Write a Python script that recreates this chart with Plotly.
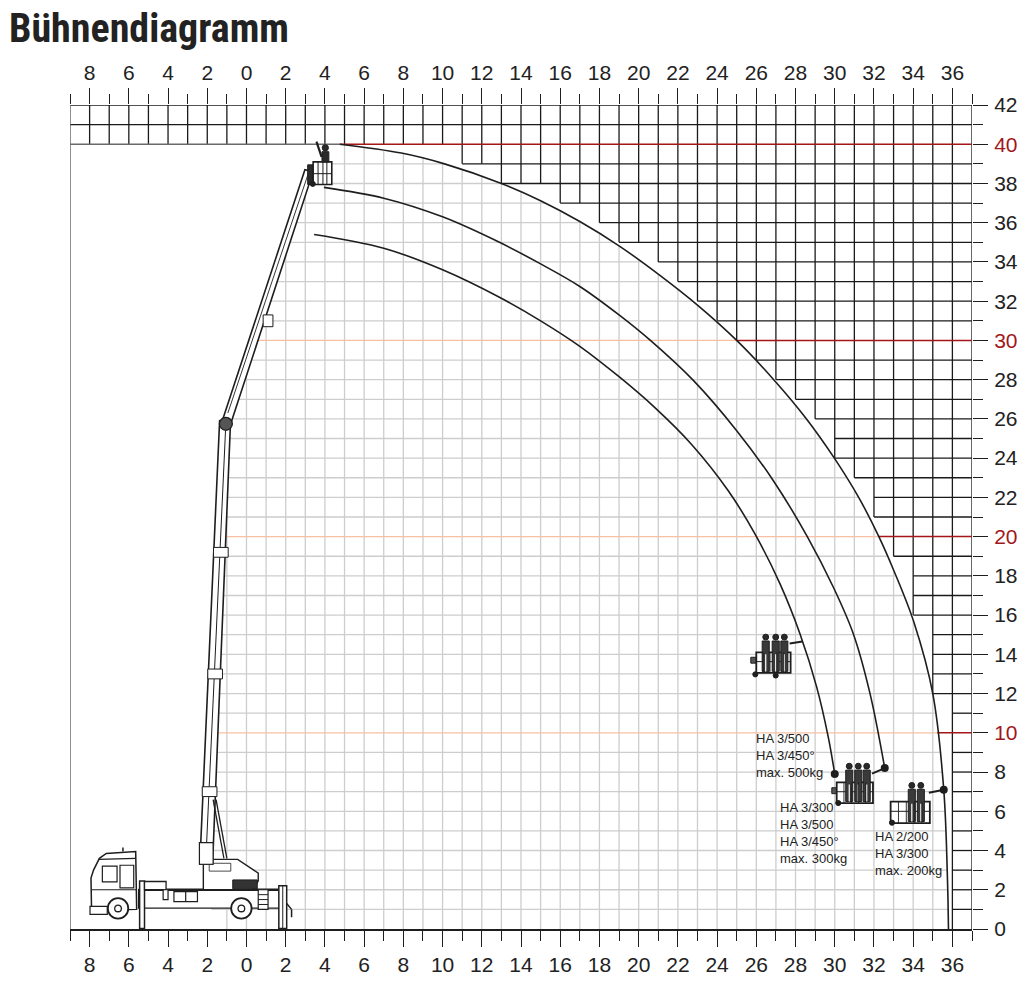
import numpy as np
import plotly.graph_objects as go

# ---------------- data ----------------
X_TICK_VALS = list(range(-8, 37, 2))
X_TICK_TEXT = [str(abs(v)) for v in X_TICK_VALS]
Y_TICK_VALS = list(range(0, 43, 2))
RED_TICKS = [10, 20, 30, 40]

# outer working envelope (HA 2/200, HA 3/300, max. 200kg)
OUTER_X = [4.75, 7.9, 10.1, 13.0, 15.0, 17.0, 19.0, 21.0, 23.0, 25.0, 26.89, 28.56,
           29.98, 31.22, 32.25, 33.0, 34.05, 35.0, 35.56, 35.75, 35.8]
OUTER_Y = [40.0, 39.55, 39.0, 38.0, 37.12, 36.06, 34.82, 33.38, 31.8, 30.0, 28.0, 26.0,
           24.0, 22.0, 20.0, 18.3, 15.6, 12.0, 7.1, 2.5, 0.0]
# middle curve (HA 3/300, HA 3/500, HA 3/450°, max. 300kg)
MID_X = [3.95, 7.0, 10.0, 12.9, 15.0, 17.0, 19.0, 20.6, 22.8, 25.0, 26.87, 28.6,
         29.93, 30.95, 31.8, 32.55]
MID_Y = [37.8, 37.25, 36.3, 35.0, 33.9, 32.75, 31.3, 30.0, 27.95, 25.4, 22.85, 20.0,
         17.42, 15.04, 12.0, 8.2]
# inner curve (HA 3/500, HA 3/450°, max. 500kg)
INNER_X = [3.45, 7.0, 10.0, 12.9, 15.0, 17.0, 19.0, 20.8, 22.7, 24.57, 25.93, 27.21,
           28.23, 29.08, 29.67, 30.0]
INNER_Y = [35.4, 34.7, 33.6, 32.2, 31.0, 29.7, 28.15, 26.6, 24.7, 22.34, 20.14, 17.59,
           15.04, 12.33, 9.78, 7.9]
OUTER_DOT_INDEX = 18

LABELS = ["HA 3/500<br>HA 3/450°<br>max. 500kg",
          "HA 3/300<br>HA 3/500<br>HA 3/450°<br>max. 300kg",
          "HA 2/200<br>HA 3/300<br>max. 200kg"]
LABEL_X = [25.9, 27.1, 31.95]
LABEL_Y = [8.85, 4.9, 3.85]

TITLE = "Bühnendiagramm"

# boom right edge (left limit of the working grid)
BOOM_EDGE_X = [-1.73, -0.82, 3.35]
BOOM_EDGE_Y = [3.3, 25.7, 38.6]

# ---------------- styles ----------------
INK = "#1e1e1e"
GRID_LIGHT = "#cdcdcd"
GRID_DARK = "#1a1a1a"
FRAME = "#6a6a6a"
ORANGE = "#f7c0a2"
RED = "#a3161a"
FONT = "Liberation Sans, Arial, sans-serif"

XMIN, XMAX, YMIN, YMAX = -9, 37, 0, 42
FIG_W, FIG_H = 1030, 985
M_L, M_T, PLOT_W, PLOT_H = 70, 105, 902, 824


def x_outer(y):
    return float(np.interp(y, OUTER_Y[::-1], OUTER_X[::-1]))


def y_outer(x):
    return float(np.interp(x, OUTER_X, OUTER_Y))


def x_left(y):
    if y < BOOM_EDGE_Y[0]:
        return -1.8
    return float(np.interp(y, BOOM_EDGE_Y, BOOM_EDGE_X))


def y_left_top(x):
    if x > BOOM_EDGE_X[-1]:
        return 40.0
    return float(np.interp(x, BOOM_EDGE_X, BOOM_EDGE_Y))


def segs():
    return {"x": [], "y": []}


def add(s, x0, y0, x1, y1):
    s["x"] += [x0, x1, None]
    s["y"] += [y0, y1, None]


light, orange, dark, red, frame = segs(), segs(), segs(), segs(), segs()

# light grid inside the envelope
for j in range(1, 40):
    xl, xr = x_left(j), x_outer(j)
    if xr <= xl:
        continue
    add(orange if j in (10, 20, 30) else light, xl, j, xr, j)
for k in range(-1, 36):
    top = 40.0
    if k >= OUTER_X[0]:
        top = min(top, y_outer(k))
    top = min(top, y_left_top(k))
    if top > 0:
        add(light, k, 0, k, top)

# dark grid outside the envelope (cells whose lower-left corner is outside)
for j in range(1, 43):
    if j in (10, 20, 30):
        add(red, x_outer(j), j, XMAX, j)
        continue
    if j == 40:
        add(frame, XMIN, 40, OUTER_X[0], 40)
        add(red, OUTER_X[0], 40, XMAX, 40)
        continue
    start = XMIN if j > 40 else int(np.ceil(x_outer(j)))
    if start < XMAX:
        add(dark, start, j, XMAX, j)
for k in range(-8, 38):
    if k < OUTER_X[0]:
        jmin = 40
    elif k >= 37:
        jmin = 0
    else:
        jmin = int(np.ceil(y_outer(k) - 1e-9))
    add(dark, k, jmin, k, YMAX)
add(frame, XMIN, 0, XMIN, YMAX)

fig = go.Figure()
for s, col, w in [(light, GRID_LIGHT, 1.3), (orange, ORANGE, 1.3), (dark, GRID_DARK, 1.3),
                  (red, RED, 1.5), (frame, FRAME, 1.5)]:
    fig.add_trace(go.Scatter(x=s["x"], y=s["y"], mode="lines", line=dict(color=col, width=w),
                             hoverinfo="skip", showlegend=False))

for cx, cy in [(OUTER_X, OUTER_Y), (MID_X, MID_Y), (INNER_X, INNER_Y)]:
    fig.add_trace(go.Scatter(x=cx, y=cy, mode="lines",
                             line=dict(color=INK, width=1.6, shape="spline", smoothing=1.0),
                             hoverinfo="skip", showlegend=False))

fig.add_trace(go.Scatter(x=[INNER_X[-1], MID_X[-1], OUTER_X[OUTER_DOT_INDEX]],
                         y=[INNER_Y[-1], MID_Y[-1], OUTER_Y[OUTER_DOT_INDEX]],
                         mode="markers", marker=dict(color=INK, size=8),
                         hoverinfo="skip", showlegend=False))
# dummy trace for the top axis
fig.add_trace(go.Scatter(x=[XMIN, XMAX], y=[YMIN, YMIN], xaxis="x2", mode="markers",
                         marker=dict(opacity=0), hoverinfo="skip", showlegend=False))

# ---------------- pictograms (shapes) ----------------
shapes = []


def rect(x0, y0, x1, y1, fill="white", lw=1.3, col=INK):
    shapes.append(dict(type="rect", xref="x", yref="y", x0=x0, y0=y0, x1=x1, y1=y1,
                       line=dict(color=col, width=lw), fillcolor=fill, layer="above"))


def poly(pts, fill="white", lw=1.3, col=INK):
    path = "M " + " L ".join(f"{x},{y}" for x, y in pts) + " Z"
    shapes.append(dict(type="path", xref="x", yref="y", path=path,
                       line=dict(color=col, width=lw), fillcolor=fill, layer="above"))


def ln(x0, y0, x1, y1, lw=1.3, col=INK):
    shapes.append(dict(type="line", xref="x", yref="y", x0=x0, y0=y0, x1=x1, y1=y1,
                       line=dict(color=col, width=lw), layer="above"))


def circ(cx, cy, r, fill="white", lw=1.3, col=INK):
    shapes.append(dict(type="circle", xref="x", yref="y", x0=cx - r, y0=cy - r,
                       x1=cx + r, y1=cy + r, line=dict(color=col, width=lw),
                       fillcolor=fill, layer="above"))


# truck
poly([(-7.9, 0.95), (-7.93, 2.6), (-7.8, 3.0), (-7.5, 3.6), (-7.15, 3.85), (-5.65, 3.95),
      (-5.6, 1.0)], lw=1.5)
ln(-7.55, 3.55, -5.65, 3.6, lw=1.2)
rect(-7.35, 2.4, -6.6, 3.2, lw=1.2)
rect(-6.45, 2.1, -5.75, 3.25, lw=1.2)
ln(-7.9, 2.0, -5.6, 2.0, lw=1.0)
rect(-7.98, 0.75, -7.1, 1.15, lw=1.2)
ln(-6.3, 3.95, -6.3, 4.15, lw=1.5)
rect(-5.5, 1.06, 1.7, 2.0, lw=1.3)
ln(-5.5, 2.0, 1.7, 2.0, lw=2.5)
rect(-5.45, 0.02, -5.2, 2.45, lw=1.5)
rect(-5.2, 2.0, -4.1, 2.42, lw=1.3)
rect(-4.25, 1.5, -4.0, 2.0, lw=1.2)
rect(-3.7, 1.4, -2.5, 1.9, lw=1.2)
ln(-3.1, 1.4, -3.1, 1.9, lw=1.2)
rect(0.6, 1.0, 1.1, 2.0, lw=1.2)
for yy in (1.25, 1.5, 1.75):
    ln(0.6, yy, 1.1, yy, lw=1.0)
rect(1.65, 0.02, 2.05, 2.2, lw=1.5)
ln(1.85, 0.02, 1.85, 2.2, lw=1.0)
ln(2.05, 1.3, 2.3, 1.0, lw=1.5)
ln(2.3, 1.0, 2.3, 0.6, lw=1.5)
circ(-6.55, 1.05, 0.52, lw=1.8)
circ(-6.55, 1.05, 0.17, lw=1.3)
circ(-0.26, 1.05, 0.52, lw=1.8)
circ(-0.26, 1.05, 0.17, lw=1.3)
# turret
poly([(-2.2, 2.0), (-2.2, 3.8), (-1.95, 3.8), (-1.95, 3.55), (-0.45, 3.55), (0.6, 2.85),
      (0.6, 2.45), (0.3, 2.0)], lw=1.4)
rect(-0.7, 2.05, 0.55, 2.5, fill="#333333", lw=1.0)
rect(-1.9, 2.95, -0.8, 3.35, fill="white", lw=0.8)
# lower boom
poly([(-2.38, 3.3), (-1.73, 3.3), (-0.82, 25.7), (-1.37, 25.9)], lw=1.6)
ln(-2.05, 4.0, -1.07, 25.4, lw=1.0)
for yy in (7.0, 13.0, 19.2):
    xl_ = -2.38 + 0.047 * (yy - 3.3)
    rect(xl_ - 0.05, yy - 0.25, xl_ + 0.7, yy + 0.25, lw=1.0)
ln(-1.7, 6.6, -1.15, 3.6, lw=1.3)
ln(-1.55, 6.6, -1.0, 3.6, lw=1.3)
rect(-2.4, 3.3, -1.7, 4.4, lw=1.2)
# jib
poly([(-1.25, 25.85), (-0.82, 25.7), (3.4, 38.6), (2.98, 38.7)], lw=1.6)
ln(-0.95, 26.3, 3.15, 38.5, lw=0.9)
rect(0.85, 30.7, 1.35, 31.3, lw=1.0)
circ(-1.05, 25.75, 0.33, fill="#555555", lw=1.3)
# top basket
rect(3.12, 37.95, 3.45, 38.95, fill="#2a2a2a", lw=1.0)
rect(3.4, 37.95, 4.35, 39.1, lw=1.6)
ln(3.4, 38.5, 4.35, 38.5, lw=1.0)
for xx in (3.65, 3.9, 4.1):
    ln(xx, 37.95, xx, 39.1, lw=1.0)
rect(3.85, 39.1, 4.2, 39.62, fill="#2a2a2a", lw=1.0)
circ(4.02, 39.82, 0.16, fill="#2a2a2a", lw=1.0)
ln(3.57, 40.13, 3.83, 39.36, lw=2.2)
circ(3.38, 37.98, 0.13, fill=INK, lw=1.0)


def basket(x0, x1, y0, y1, heads, head_y, arm_end, dots, rot=None):
    if rot:
        rect(*rot, fill="#555555", lw=1.0)
    rect(x0, y0, x1, y1, lw=1.8)
    ln(x0, y0 + 0.55 * (y1 - y0), x1, y0 + 0.55 * (y1 - y0), lw=1.0)
    for hx in heads:
        rect(hx - 0.18, y0 + 0.08, hx + 0.18, head_y - 0.2, fill="#3a3a3a", lw=1.0)
        ln(hx, y0 + 0.08, hx, y1 - 0.1, lw=1.2, col="white")
        circ(hx, head_y, 0.15, fill="#2a2a2a", lw=1.0)
    for xx in np.linspace(x0, x1, 6)[1:-1]:
        ln(xx, y0, xx, y1, lw=0.9)
    ln(x1 - 0.05, y1 + 0.45, arm_end[0], arm_end[1], lw=2.0)
    for dx, dy in dots:
        circ(dx, dy, 0.13, fill=INK, lw=1.0)


basket(26.0, 27.75, 13.05, 14.1, [26.48, 26.99, 27.43], 14.88, (28.35, 14.65),
       [(25.95, 12.98), (26.99, 12.92)], rot=(25.72, 13.55, 26.0, 13.85))
basket(30.1, 31.95, 6.42, 7.47, [30.74, 31.2, 31.63], 8.3, (MID_X[-1], MID_Y[-1]),
       [(30.18, 6.42)], rot=(29.85, 6.9, 30.1, 7.2))
basket(32.85, 34.85, 5.4, 6.49, [33.93, 34.39], 7.32,
       (OUTER_X[OUTER_DOT_INDEX], OUTER_Y[OUTER_DOT_INDEX]), [(32.92, 5.42)])

# ---------------- annotations ----------------
annotations = []
for t, x, y in zip(LABELS, LABEL_X, LABEL_Y):
    annotations.append(dict(x=x, y=y, xref="x", yref="y", text=t, showarrow=False,
                            xanchor="left", yanchor="middle", align="left",
                            font=dict(family=FONT, size=13, color="#222222")))

y_tick_text = [f'<span style="color:{RED}">{v}</span>' if v in RED_TICKS else str(v)
               for v in Y_TICK_VALS]

tickfont = dict(family=FONT, size=21, color="#222222")
xaxis_common = dict(range=[XMIN, XMAX], showgrid=False, zeroline=False, tickmode="array",
                    tickvals=X_TICK_VALS, ticktext=X_TICK_TEXT, ticks="outside",
                    ticklen=16, tickwidth=1.3, tickcolor=INK, tickfont=tickfont,
                    ticklabelstandoff=0, automargin=False,
                    minor=dict(tickvals=list(range(-9, 38, 2)), ticks="outside",
                               ticklen=10, tickwidth=1.3, tickcolor=INK, showgrid=False))

fig.update_layout(
    width=FIG_W, height=FIG_H, autosize=False,
    margin=dict(l=M_L, r=FIG_W - M_L - PLOT_W, t=M_T, b=FIG_H - M_T - PLOT_H,
                autoexpand=False),
    paper_bgcolor="white", plot_bgcolor="white",
    showlegend=False,
    xaxis=dict(**xaxis_common, side="bottom", showline=True, linecolor=INK, linewidth=1.5),
    xaxis2=dict(**xaxis_common, side="top", overlaying="x", anchor="y", matches="x",
                showline=False),
    yaxis=dict(range=[YMIN, YMAX], side="right", showgrid=False, zeroline=False,
               tickmode="array", tickvals=Y_TICK_VALS, ticktext=y_tick_text,
               ticks="outside", ticklen=15, tickwidth=1.3, tickcolor=INK, tickfont=tickfont,
               ticklabelstandoff=2, showline=False, automargin=False,
               minor=dict(tickvals=list(range(1, 42, 2)), ticks="outside", ticklen=10,
                          tickwidth=1.3, tickcolor=INK, showgrid=False)),
    shapes=shapes,
    annotations=annotations,
    title=dict(text=f"<b>{TITLE}</b>", xref="container", yref="container",
               x=9 / FIG_W, y=1 - 14 / FIG_H, xanchor="left", yanchor="top",
               font=dict(family="Liberation Sans Narrow, Roboto Condensed, DejaVu Sans Condensed, sans-serif",
                         size=40, color="#222222")),
)

# place the figure flush with the page corner (no default body margin)
fig.write_html("out.html", config={"displayModeBar": False},
               post_script="document.body.style.margin='0';")
